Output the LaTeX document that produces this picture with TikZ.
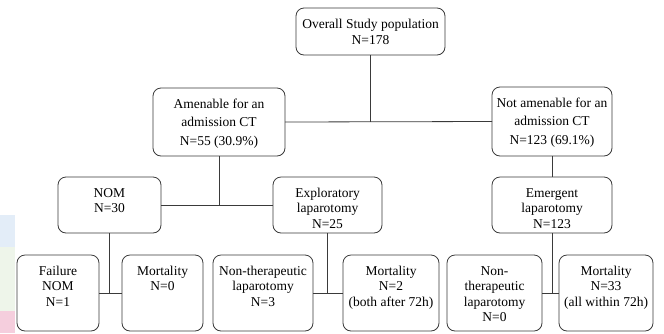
\documentclass[tikz,border=0pt]{standalone}
\usepackage{fontspec}
\setmainfont{Liberation Serif}
\definecolor{edge}{HTML}{3A3A3A}
\definecolor{stripblue}{HTML}{E3EDF8}
\definecolor{stripgreen}{HTML}{EEF5EA}
\definecolor{strippink}{HTML}{F5CEDD}
\tikzset{
  box/.style={draw=edge, line width=0.8pt, rounded corners=8pt, inner sep=0pt, outer sep=0pt, fill=white},
  link/.style={draw=edge, line width=0.8pt},
}
% name, x1, y1, x2, y2, line spacing, text
\newcommand\flowbox[7]{%
  \node[box, anchor=north west] (#1) at (#2,#3)
    {\parbox[c][\dimexpr #5pt-#3pt\relax][t]{\dimexpr #4pt-#2pt\relax}{%
      \centering\fontsize{13.5}{#6}\selectfont\baselineskip=#6pt\relax
      \rule{0pt}{20pt}#7}};}
\begin{document}
\begin{tikzpicture}[x=1pt,y=-1pt]
\useasboundingbox (0,0) rectangle (664,333);
\fill[white] (0,0) rectangle (664,333);
% faint strips at the left edge
\fill[stripblue] (0,215) rectangle (15,247);
\fill[stripgreen] (0,247) rectangle (15,311);
\fill[strippink] (0,311) rectangle (15,333);

\flowbox{top}{296}{8}{445}{55}{16}{Overall Study population\\N=178}
\flowbox{amen}{153}{88}{285}{156}{18.5}{Amenable for an\\admission CT\\N=55 (30.9\%)}
\flowbox{notam}{492}{87}{612}{156}{18.5}{Not amenable for an\\admission CT\\N=123 (69.1\%)}
\flowbox{nom}{58}{177}{161}{233}{15.5}{NOM\\N=30}
\flowbox{expl}{273}{177}{382}{233}{15.5}{Exploratory\\laparotomy\\N=25}
\flowbox{emerg}{492}{177}{612}{233}{15.5}{Emergent\\laparotomy\\N=123}
\flowbox{fail}{17}{255}{99}{331}{15.5}{Failure\\NOM\\N=1}
\flowbox{mortA}{122}{255}{203}{331}{15.5}{Mortality\\N=0}
\flowbox{nonth}{213}{255}{313}{331}{15.5}{Non-therapeutic\\laparotomy\\N=3}
\flowbox{mortB}{343}{255}{439}{331}{15.5}{Mortality\\N=2\\(both after 72h)}
\flowbox{nonthB}{447}{255}{542}{331}{15.5}{Non-\\therapeutic\\laparotomy\\N=0}
\flowbox{mortC}{559}{255}{653}{331}{15.5}{Mortality\\N=33\\(all within 72h)}

% connectors
\draw[link] (amen.east) -- (notam.west);
\coordinate (j1) at (top.south |- amen.east);
\draw[link] (top.south) -- (j1);

\draw[link] (nom.east) -- (expl.west);
\coordinate (j2) at (amen.south |- nom.east);
\draw[link] (amen.south) -- (j2);

\draw[link] (notam.south) -- (emerg.north);

\draw[link] (fail.east |- 0,293) coordinate (f1) -- (mortA.west |- 0,293) coordinate (f2);
\coordinate (j3) at (nom.south |- f1);
\draw[link] (nom.south) -- (j3);

\draw[link] (nonth.east |- 0,293) coordinate (g1) -- (mortB.west |- 0,293) coordinate (g2);
\coordinate (j4) at (expl.south |- g1);
\draw[link] (expl.south) -- (j4);

\draw[link] (nonthB.east |- 0,293) coordinate (h1) -- (mortC.west |- 0,293) coordinate (h2);
\coordinate (j5) at (emerg.south |- h1);
\draw[link] (emerg.south) -- (j5);
\end{tikzpicture}
\end{document}
